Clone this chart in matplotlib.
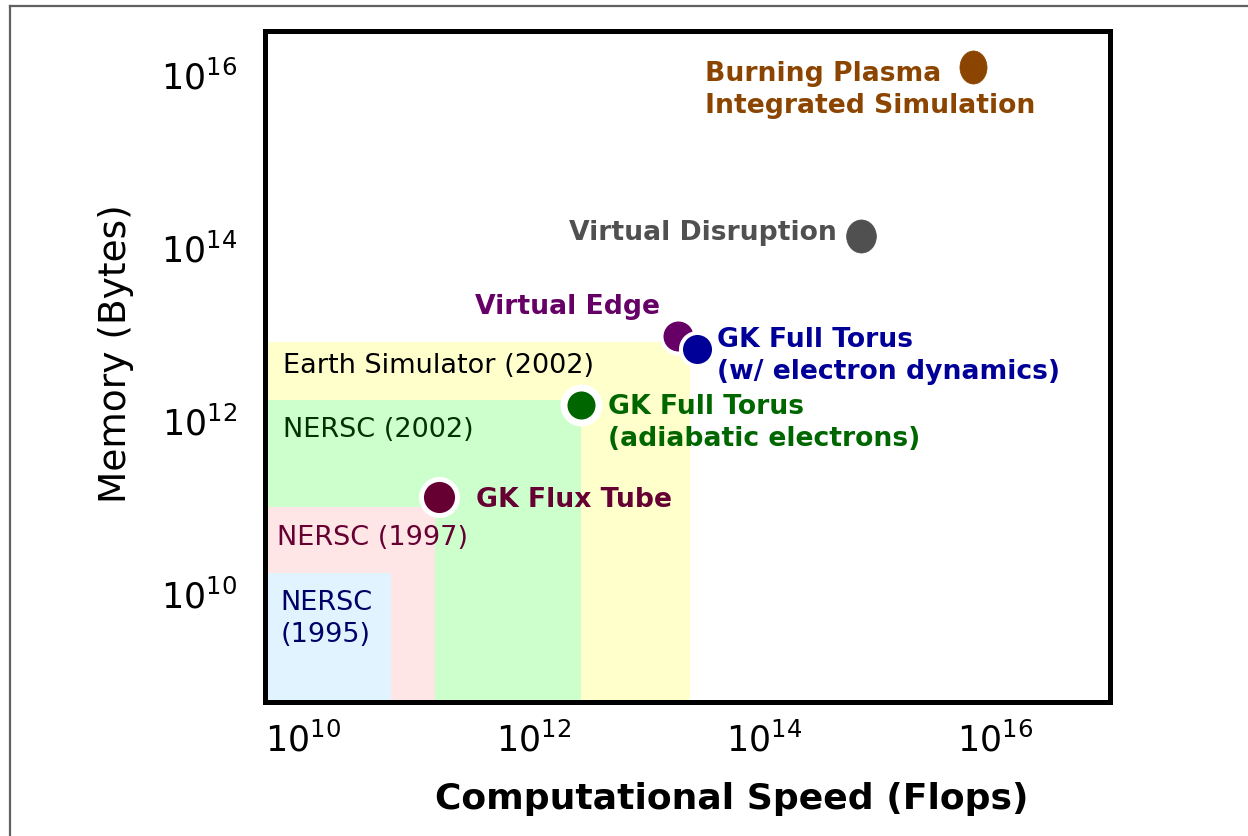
import matplotlib

matplotlib.use("Agg")
import matplotlib.pyplot as plt
from matplotlib.lines import Line2D
from matplotlib.markers import MarkerStyle
from matplotlib.patches import Rectangle
from matplotlib.transforms import Affine2D

plt.rcParams["font.family"] = ["DejaVu Sans"]
plt.rcParams["mathtext.default"] = "regular"

# machines shown as shaded regions (peak flops, memory)
machine_names = ["Earth Simulator (2002)", "NERSC (2002)", "NERSC (1997)", "NERSC\n(1995)"]
machine_flops = [2.3e13, 2.6e12, 1.4e11, 5.8e10]
machine_memory = [8.1e12, 1.7e12, 1.0e11, 1.7e10]

# simulation requirements
sim_names = [
    "Burning Plasma\nIntegrated Simulation",
    "Virtual Disruption",
    "Virtual Edge",
    "GK Full Torus\n(w/ electron dynamics)",
    "GK Full Torus\n(adiabatic electrons)",
    "GK Flux Tube",
]
sim_flops = [6.5e15, 7.0e14, 1.8e13, 2.6e13, 2.6e12, 1.5e11]
sim_memory = [1.2e16, 1.35e14, 9.3e12, 6.6e12, 1.5e12, 1.3e11]

tick_values = [1e10, 1e12, 1e14, 1e16]
tick_labels = ["$10^{10}$", "$10^{12}$", "$10^{14}$", "$10^{16}$"]

X_LIM = (10**9.67, 10**17.0)
Y_LIM = (10**8.74, 10**16.5)

# styles
REGION_FILL = ["#ffffcc", "#ccffcc", "#ffe6e6", "#e1f3ff"]
REGION_TEXT = ["#000000", "#003300", "#660033", "#000066"]
REGION_OFFSET = [(13, -17), (13, -21), (9, -22), (11, -32)]

SIM_COLOR = ["#8b4500", "#505050", "#660066", "#000099", "#006600", "#660033"]
SIM_ASPECT = [0.82, 0.9, 1.0, 1.0, 1.0, 1.0]
SIM_SIZE = [23.8, 23.8, 24.5, 23.8, 25.2, 26.0]
SIM_EDGE = [0.0, 0.0, 2.9, 2.9, 5.0, 3.6]
SIM_TEXT = [
    ((-193, -15.5), "left"),
    ((-18, 3), "right"),
    ((-13, 21.5), "right"),
    ((15, -4.3), "left"),
    ((19.4, -12.6), "left"),
    ((27, -1.4), "left"),
]

fig = plt.figure(figsize=(12.48, 8.37), dpi=100, facecolor="white")
ax = fig.add_axes([0.2123, 0.1601, 0.677, 0.8017])
ax.set_xscale("log")
ax.set_yscale("log")
ax.set_xlim(*X_LIM)
ax.set_ylim(*Y_LIM)

for name, fx, mem, fill, tcol, off in zip(
    machine_names, machine_flops, machine_memory, REGION_FILL, REGION_TEXT, REGION_OFFSET
):
    ax.add_patch(
        Rectangle((X_LIM[0], Y_LIM[0]), fx - X_LIM[0], mem - Y_LIM[0],
                  facecolor=fill, edgecolor="none", zorder=1)
    )
    ax.annotate(name, xy=(X_LIM[0], mem), xytext=off, textcoords="offset points",
                ha="left", va="center", fontsize=19.5, color=tcol, linespacing=1.3,
                zorder=2)

for i, name in enumerate(sim_names):
    marker = MarkerStyle("o", transform=Affine2D().scale(SIM_ASPECT[i], 1.0))
    ax.plot([sim_flops[i]], [sim_memory[i]], linestyle="none", marker=marker,
            markersize=SIM_SIZE[i], markerfacecolor=SIM_COLOR[i],
            markeredgecolor="white" if SIM_EDGE[i] else SIM_COLOR[i],
            markeredgewidth=SIM_EDGE[i] or 0.5, zorder=3 + i, clip_on=False)
    off, ha = SIM_TEXT[i]
    ax.annotate(name, xy=(sim_flops[i], sim_memory[i]), xytext=off,
                textcoords="offset points", ha=ha, va="center",
                multialignment="left", fontsize=19.2, fontweight="bold",
                color=SIM_COLOR[i], linespacing=1.3, zorder=10)

ax.set_xticks(tick_values)
ax.set_xticklabels(tick_labels)
ax.set_yticks(tick_values)
ax.set_yticklabels(tick_labels)
ax.minorticks_off()
ax.tick_params(axis="both", length=0, labelsize=25)
ax.tick_params(axis="y", pad=20)
ax.tick_params(axis="x", pad=14)

for spine in ax.spines.values():
    spine.set_linewidth(3.6)
    spine.set_color("black")
    spine.set_zorder(20)

ax.set_xlabel("Computational Speed (Flops)", fontsize=26, fontweight="bold")
ax.xaxis.set_label_coords(0.553, -0.118)
ax.set_ylabel("Memory (Bytes)", fontsize=27)
ax.yaxis.set_label_coords(-0.155, 0.52)

# outer slide frame
fig.add_artist(Line2D([0.008, 1.0], [0.9916, 0.9916], color="#606060", linewidth=1.6))
fig.add_artist(Line2D([0.008, 0.008], [0.0, 0.9916], color="#606060", linewidth=1.6))

fig.savefig("out.png", dpi=100, facecolor="white")
